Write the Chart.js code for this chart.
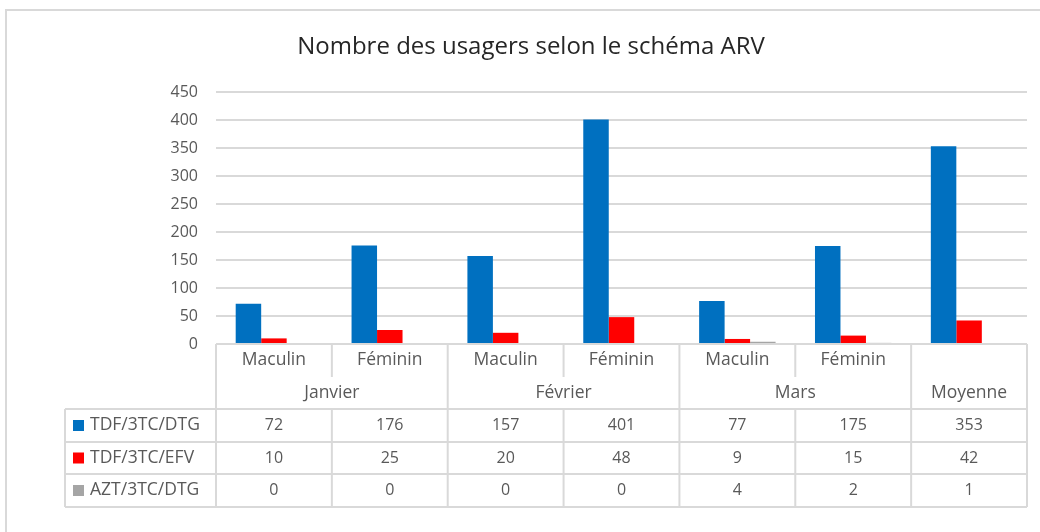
<!DOCTYPE html>
<html>
<head>
<meta charset="utf-8">
<script src="https://cdn.jsdelivr.net/npm/chart.js@4/dist/chart.umd.min.js"></script>
<style>
    html, body { margin: 0; padding: 0; background: #fff; }
    #wrap { width: 1040px; height: 532px; }
</style>
</head>
<body>
<div id="wrap"><canvas id="arvChart" width="1040" height="532"></canvas></div>
<script>
const chartTitle = 'Nombre des usagers selon le schéma ARV';
const sexLabels = ['Maculin', 'Féminin', 'Maculin', 'Féminin', 'Maculin', 'Féminin', ''];
const monthLabels = ['Janvier', 'Février', 'Mars', 'Moyenne'];
const monthSpans = [2, 2, 2, 1];

const seriesNames = ['TDF/3TC/DTG', 'TDF/3TC/EFV', 'AZT/3TC/DTG'];
const tdfDtg = [72, 176, 157, 401, 77, 175, 353];
const tdfEfv = [10, 25, 20, 48, 9, 15, 42];
const aztDtg = [0, 0, 0, 0, 4, 2, 1];
const seriesColors = ['#0070C0', '#FF0000', '#A5A5A5'];

const yTicks = [0, 50, 100, 150, 200, 250, 300, 350, 400, 450];

const lineColor = '#d9d9d9';
const textColor = '#595959';
const fontFamily = '"Open Sans", "Noto Sans", sans-serif';

// draws the frame, the title and the data table under the plot
const dataTable = {
    id: 'dataTable',
    afterDraw(chart) {
        const { ctx, chartArea } = chart;
        const x = chart.scales.x;
        const n = sexLabels.length;
        const colW = (chartArea.right - chartArea.left) / n;
        const colLeft = i => x.getPixelForValue(i) - colW / 2;

        const top = chartArea.bottom;
        const rows = [top, top + 33, top + 65, top + 98, top + 130, top + 163];
        const legendLeft = 65;
        const right = chartArea.right;

        ctx.save();
        ctx.strokeStyle = lineColor;
        ctx.lineWidth = 2;

        // outer frame
        ctx.beginPath();
        ctx.moveTo(6, 540);
        ctx.lineTo(6, 10);
        ctx.lineTo(1045, 10);
        ctx.stroke();

        // title
        ctx.fillStyle = '#262626';
        ctx.font = '24px ' + fontFamily;
        ctx.textAlign = 'center';
        ctx.textBaseline = 'middle';
        ctx.fillText(chartTitle, 531, 47);

        ctx.beginPath();
        ctx.moveTo(chartArea.left, top);
        ctx.lineTo(right, top);
        for (let r = 2; r < rows.length; r++) {
            ctx.moveTo(legendLeft, rows[r]);
            ctx.lineTo(right, rows[r]);
        }
        ctx.moveTo(legendLeft, rows[2]);
        ctx.lineTo(legendLeft, rows[5]);

        // group boundaries
        const groupEdges = [0];
        monthSpans.forEach(s => groupEdges.push(groupEdges[groupEdges.length - 1] + s));
        for (let i = 0; i <= n; i++) {
            const px = i < n ? colLeft(i) : right;
            if (groupEdges.includes(i)) {
                ctx.moveTo(px, top);
                ctx.lineTo(px, rows[5]);
            } else {
                ctx.moveTo(px, top);
                ctx.lineTo(px, rows[1]);
                ctx.moveTo(px, rows[2]);
                ctx.lineTo(px, rows[5]);
            }
        }
        ctx.stroke();

        const wordFont = '17.5px ' + fontFamily;
        const numFont = '16px ' + fontFamily;
        ctx.fillStyle = textColor;

        ctx.font = wordFont;
        sexLabels.forEach((lab, i) => {
            ctx.fillText(lab, x.getPixelForValue(i), (rows[0] + rows[1]) / 2);
        });

        monthLabels.forEach((lab, g) => {
            const a = colLeft(groupEdges[g]);
            const b = groupEdges[g + 1] < n ? colLeft(groupEdges[g + 1]) : right;
            ctx.fillText(lab, (a + b) / 2, (rows[1] + rows[2]) / 2);
        });

        chart.data.datasets.forEach((ds, r) => {
            const cy = (rows[r + 2] + rows[r + 3]) / 2;
            ctx.font = numFont;
            ds.data.forEach((v, i) => {
                ctx.fillText(String(v), x.getPixelForValue(i), cy);
            });
            ctx.fillStyle = ds.backgroundColor;
            ctx.fillRect(73, cy - 5.5, 11, 11);
            ctx.fillStyle = textColor;
            ctx.font = wordFont;
            ctx.textAlign = 'left';
            ctx.fillText(ds.label, 90, cy);
            ctx.textAlign = 'center';
        });

        ctx.restore();
    }
};

new Chart(document.getElementById('arvChart'), {
    type: 'bar',
    data: {
        labels: sexLabels.map((s, i) => i),
        datasets: [
            { label: seriesNames[0], data: tdfDtg, backgroundColor: seriesColors[0] },
            { label: seriesNames[1], data: tdfEfv, backgroundColor: seriesColors[1] },
            { label: seriesNames[2], data: aztDtg, backgroundColor: seriesColors[2] }
        ]
    },
    options: {
        responsive: false,
        animation: false,
        datasets: {
            bar: { barPercentage: 1, categoryPercentage: 0.66, borderWidth: 0 }
        },
        layout: {
            padding: { left: 0, right: 13, top: 92, bottom: 188 }
        },
        plugins: {
            legend: { display: false },
            tooltip: { enabled: false },
            title: { display: false }
        },
        scales: {
            x: {
                ticks: { display: false },
                grid: { display: false, drawTicks: false },
                border: { display: false }
            },
            y: {
                min: 0,
                max: 450,
                afterFit: scale => { scale.width = 216; },
                afterBuildTicks: scale => { scale.ticks = yTicks.map(v => ({ value: v })); },
                ticks: {
                    color: textColor,
                    padding: 18,
                    font: { family: fontFamily, size: 16 }
                },
                grid: { color: lineColor, lineWidth: 2, drawTicks: false },
                border: { display: false }
            }
        }
    },
    plugins: [dataTable]
});
</script>
</body>
</html>
